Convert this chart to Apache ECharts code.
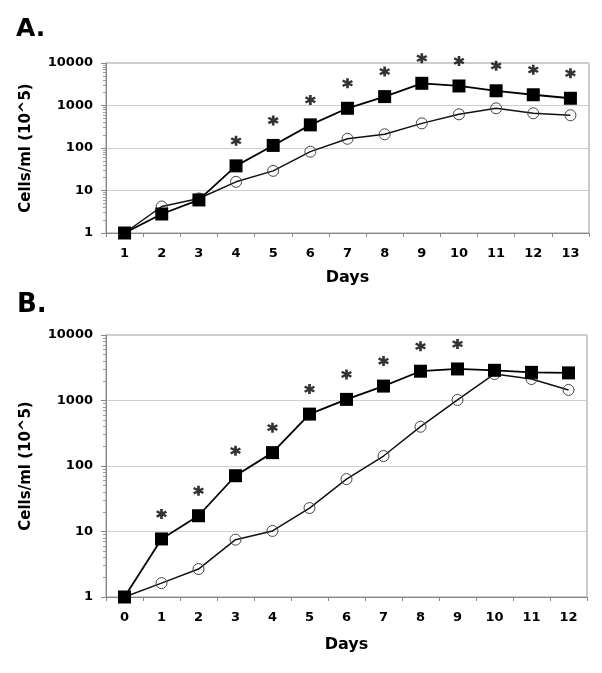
<!DOCTYPE html>
<html>
<head>
<meta charset="utf-8">
<script src="https://cdn.jsdelivr.net/npm/echarts@6/dist/echarts.min.js"></script>
<style>
html,body{margin:0;padding:0;background:#fff;}
#chart{width:602px;height:673px;}
</style>
</head>
<body>
<div id="chart"></div>
<script>
// ---- data ----
var daysA = ['1','2','3','4','5','6','7','8','9','10','11','12','13'];
var squaresA = [1, 2.8, 6, 38, 115, 350, 860, 1620, 3330, 2880, 2220, 1790, 1480];
var circlesA = [1, 4.2, 6.5, 16, 29, 82, 165, 210, 380, 620, 860, 655, 590];
var sigA = [0,0,0,1,1,1,1,1,1,1,1,1,1];

var daysB = ['0','1','2','3','4','5','6','7','8','9','10','11','12'];
var squaresB = [1, 7.7, 17.4, 71, 160, 620, 1040, 1660, 2800, 3030, 2890, 2690, 2640];
var circlesB = [1, 1.63, 2.67, 7.5, 10.2, 22.8, 63, 142, 398, 1020, 2540, 2130, 1450];
var sigB = [0,1,1,1,1,1,1,1,1,1,0,0,0];

var yTickLabels = ['1','10','100','1000','10000'];
var yName = 'Cells/ml (10^5)';
var xName = 'Days';

// ---- styling ----
var FONT = '"DejaVu Sans", sans-serif';
var AST = 'path://M38,0 L62,0 L62,100 L38,100 Z M12.5,12.9 L99.1,62.9 L87.5,83.1 L0.9,33.1 Z M0.9,66.9 L87.5,16.9 L99.1,37.1 L12.5,87.1 Z';

function sigData(vals, sig){
  return vals.map(function(v,i){ return sig[i] ? v : '-'; });
}

function xAxis(idx, cats, gap){
  return {
    type:'category', gridIndex:idx, data:cats, boundaryGap:true,
    name:xName, nameLocation:'middle', nameGap:gap,
    nameTextStyle:{fontFamily:FONT, fontWeight:'bold', fontSize:16, color:'#000'},
    axisLine:{lineStyle:{color:'#888', width:1}},
    axisTick:{show:true, length:4, lineStyle:{color:'#888'}},
    axisLabel:{fontFamily:FONT, fontWeight:'bold', fontSize:13, color:'#000', margin:14}
  };
}
function yAxis(idx){
  return {
    type:'log', gridIndex:idx, logBase:10, min:1, max:10000,
    name:yName, nameLocation:'middle', nameGap:72,
    nameTextStyle:{fontFamily:FONT, fontWeight:'bold', fontSize:15, color:'#000'},
    axisLine:{show:true, lineStyle:{color:'#888', width:1}},
    axisTick:{show:true, length:5, lineStyle:{color:'#888'}},
    minorTick:{show:true, splitNumber:9, length:3, lineStyle:{color:'#999'}},
    splitLine:{show:true, lineStyle:{color:'#cfcfcf', width:1}},
    axisLabel:{fontFamily:FONT, fontWeight:'bold', fontSize:13, color:'#000', margin:13,
      formatter:function(v){ var k = Math.round(Math.log10(v)); return yTickLabels[k]; }}
  };
}
function circleSeries(idx, vals){
  return {
    type:'line', xAxisIndex:idx, yAxisIndex:idx, data:vals,
    symbol:'circle', symbolSize:11, z:2,
    lineStyle:{color:'#111', width:1.5},
    itemStyle:{color:'rgba(255,255,255,0)', borderColor:'#444', borderWidth:1}
  };
}
function squareSeries(idx, vals){
  return {
    type:'line', xAxisIndex:idx, yAxisIndex:idx, data:vals,
    symbol:'rect', symbolSize:13, z:3,
    lineStyle:{color:'#000', width:1.8},
    itemStyle:{color:'#000', borderColor:'#000', borderWidth:0}
  };
}
function starSeries(idx, vals, sig){
  return {
    type:'scatter', xAxisIndex:idx, yAxisIndex:idx, data:sigData(vals, sig),
    symbol:AST, symbolSize:[11,10], symbolOffset:[0,-25], z:4,
    itemStyle:{color:'#000'}
  };
}

var chart = echarts.init(document.getElementById('chart'), null, {renderer:'canvas'});
chart.setOption({
  animation:false,
  backgroundColor:'#fff',
  title:[
    {text:'A.', left:11, top:12, textStyle:{fontFamily:FONT, fontWeight:'bold', fontSize:25, color:'#000'}},
    {text:'B.', left:12, top:287, textStyle:{fontFamily:FONT, fontWeight:'bold', fontSize:26, color:'#000'}}
  ],
  grid:[
    {left:106, top:63, right:13, height:170, show:true, borderColor:'#999', borderWidth:1, containLabel:false},
    {left:106, top:335, right:15, height:262, show:true, borderColor:'#999', borderWidth:1, containLabel:false}
  ],
  xAxis:[xAxis(0, daysA, 37), xAxis(1, daysB, 40)],
  yAxis:[yAxis(0), yAxis(1)],
  series:[
    circleSeries(0, circlesA), squareSeries(0, squaresA), starSeries(0, squaresA, sigA),
    circleSeries(1, circlesB), squareSeries(1, squaresB), starSeries(1, squaresB, sigB)
  ]
});
</script>
</body>
</html>
